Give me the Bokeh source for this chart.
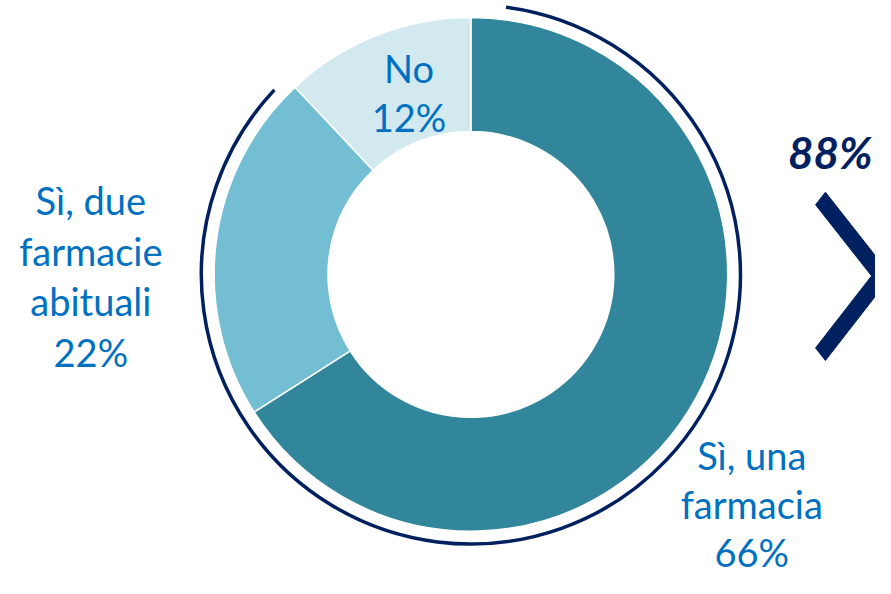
import math
from bokeh.plotting import figure
from bokeh.models import Range1d
from bokeh.core.properties import value
from bokeh.embed import file_html
from bokeh.resources import INLINE

# ---- data ----
categories = ["Sì, una farmacia", "Sì, due farmacie abituali", "No"]
values = [66, 22, 12]
label_lines = [["Sì, una", "farmacia"], ["Sì, due", "farmacie", "abituali"], ["No"]]
colors = ["#31869B", "#74BED3", "#D2E9F0"]
total_label = "88%"
total_share = values[0] + values[1]

W, H = 891, 594
def Y(v):
    return H - v

p = figure(width=875, height=578, x_range=Range1d(0, W), y_range=Range1d(0, H),
           output_backend="svg", toolbar_location=None, min_border=0)
p.axis.visible = False
p.grid.visible = False
p.outline_line_color = None
p.background_fill_color = "white"

cx, cy = 479, Y(281.5)
r_in, r_out = 145.5, 261.5

# wedges, clockwise from 12 o'clock
tot = sum(values)
cum = 0
starts, ends = [], []
for v in values:
    a0 = math.pi / 2 - 2 * math.pi * cum / tot
    cum += v
    a1 = math.pi / 2 - 2 * math.pi * cum / tot
    starts.append(a1)
    ends.append(a0)
p.annular_wedge(x=[cx] * 3, y=[cy] * 3, inner_radius=r_in, outer_radius=r_out,
                start_angle=starts, end_angle=ends, direction="anticlock",
                fill_color=colors, line_color="white", line_width=1.5)

# outer arc highlighting "Sì" answers
arc_start = math.radians(82.5)
arc_end = math.radians(90 + 360 * (100 - total_share) / 100 + 3.6)
p.arc(x=cx, y=cy, radius=274.5, start_angle=arc_start, end_angle=arc_end,
      direction="clock", line_color="#002060", line_width=3.5)

# labels (y = vertical centre of first line, spacing)
font = value("Lato")
lab_color = "#0070C0"
label_pos = [(765, 467, 50), (92, 205, 52), (416, 69, 51)]
for lines, v, (lx, ly, sp) in zip(label_lines, values, label_pos):
    txt = lines + [f"{v}%"]
    xs = [lx] * len(txt)
    ys = [Y(ly + i * sp) for i in range(len(txt))]
    p.text(x=xs, y=ys, text=txt, text_font=font, text_font_size="38px",
           text_color=lab_color, text_align="center", text_baseline="middle")

p.text(x=[845], y=[Y(156)], text=[total_label], text_font=font, text_font_size="44px",
       text_font_style="bold italic", text_color="#002060", text_align="center",
       text_baseline="middle")

# chevron
chev_x = [830, 840, 907, 840, 830, 887]
chev_y = [Y(v) for v in [210, 197, 283, 370, 357, 283]]
p.patch(x=chev_x, y=chev_y, fill_color="#002060", line_color="#002060", line_width=1)

open("out.html", "w").write(file_html(p, INLINE))
